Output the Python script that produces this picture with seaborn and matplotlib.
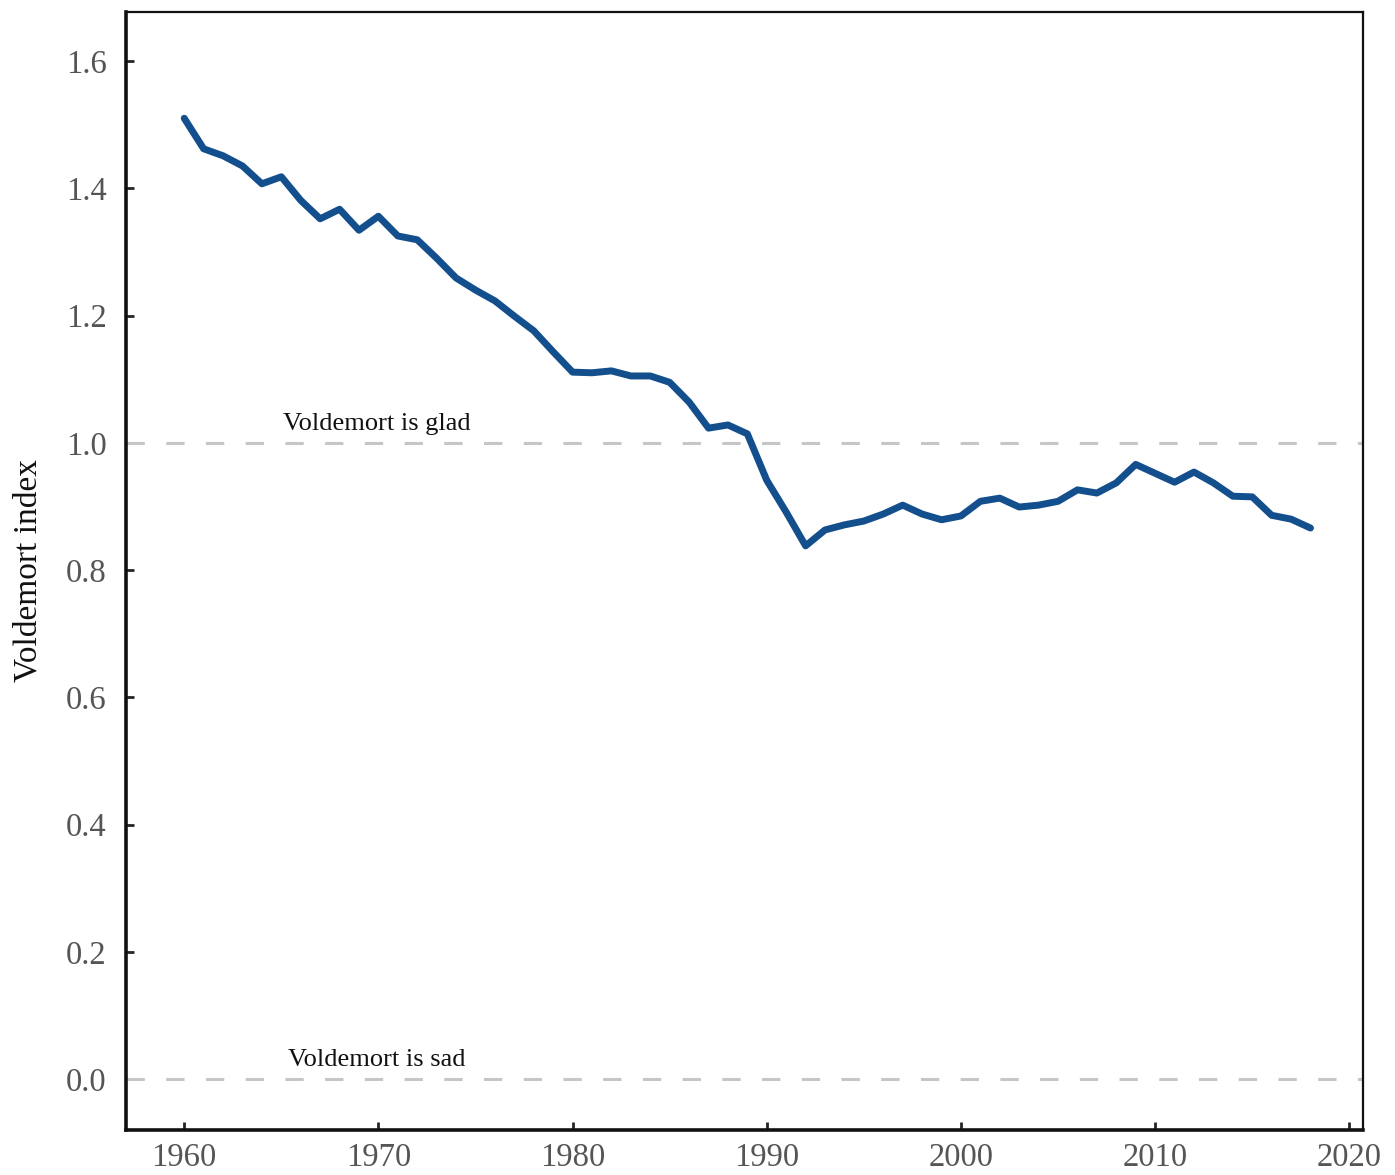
import pandas as pd
import matplotlib.pyplot as plt
import seaborn as sns

years = list(range(1960, 2019))
index_values = [
    1.510, 1.462, 1.451, 1.435, 1.407, 1.418, 1.381, 1.352, 1.367, 1.334,
    1.356, 1.325, 1.319, 1.290, 1.259, 1.240, 1.223, 1.199, 1.176, 1.143,
    1.111, 1.110, 1.113, 1.105, 1.105, 1.095, 1.064, 1.023, 1.028, 1.014,
    0.941, 0.891, 0.838, 0.863, 0.871, 0.877, 0.888, 0.902, 0.888, 0.879,
    0.885, 0.908, 0.913, 0.899, 0.902, 0.908, 0.926, 0.921, 0.937, 0.966,
    0.952, 0.938, 0.954, 0.937, 0.916, 0.915, 0.886, 0.880, 0.866,
]
ref_levels = [1.0, 0.0]
ref_labels = ["Voldemort is glad", "Voldemort is sad"]
x_ticks = [1960, 1970, 1980, 1990, 2000, 2010, 2020]
y_ticks = [0.0, 0.2, 0.4, 0.6, 0.8, 1.0, 1.2, 1.4, 1.6]

df = pd.DataFrame({"year": years, "index": index_values})

sns.set_style("ticks")
plt.rcParams['font.family'] = ['Liberation Serif', 'DejaVu Serif']

fig, ax = plt.subplots(figsize=(13.95, 11.75), dpi=100)
fig.subplots_adjust(left=0.0903, right=0.977, top=0.9898, bottom=0.0383)

# reference lines and their labels
for level, label in zip(ref_levels, ref_labels):
    ax.axhline(level, color="#c6c6c6", lw=2.2, ls=(0, (6, 7)), zorder=1)
    ax.text(1969.9, level + 0.012, label, ha="center", va="bottom",
            fontsize=19, color="#111111")

sns.lineplot(data=df, x="year", y="index", ax=ax, color="#134f8c", lw=5.0, zorder=3)

ax.set_xlim(1957.0, 2020.7)
ax.set_ylim(-0.080, 1.677)
ax.set_xticks(x_ticks)
ax.set_yticks(y_ticks)
ax.set_yticklabels([f"{v:.1f}" for v in y_ticks])
ax.tick_params(direction="in", length=6, width=2, labelsize=23.5,
               labelcolor="#555555")
ax.tick_params(axis="y", pad=14)
ax.tick_params(axis="x", pad=9)
ax.set_xlabel("")
ax.set_ylabel("Voldemort index", fontsize=24, color="#111111", labelpad=16)

for side in ["left", "bottom"]:
    ax.spines[side].set_linewidth(2.6)
for side in ["top", "right"]:
    ax.spines[side].set_linewidth(1.6)
for sp in ax.spines.values():
    sp.set_color("#111111")

fig.savefig("out.png", dpi=100)
